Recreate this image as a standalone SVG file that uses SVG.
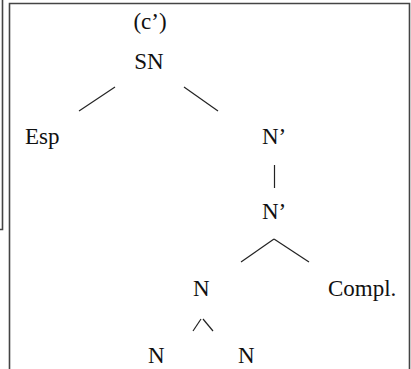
<svg xmlns="http://www.w3.org/2000/svg" width="411" height="369" viewBox="0 0 411 369">
  <style>
    text { font-family: 'Liberation Serif', 'DejaVu Serif', serif; font-size: 23px; fill: #111; }
    .c { stroke: #222; stroke-width: 1.2; fill: none; }
    .frame { stroke: #444; stroke-width: 1.6; fill: none; }
  </style>
  <rect width="411" height="369" fill="#fff"/>
  <g id="frames">
    <polyline class="frame" points="2.5,0 2.5,229.5 0,229.5"/>
    <polyline class="frame" points="9.5,369 9.5,3.5 409.5,3.5 409.5,369"/>
  </g>
  <g id="label-c"><text x="150" y="29" text-anchor="middle" font-family="Liberation Serif, serif">(c’)</text></g>
  <g id="node-SN"><text x="149" y="69" text-anchor="middle" font-family="Liberation Serif, serif">SN</text></g>
  <g id="node-Esp"><text x="25" y="144" font-family="Liberation Serif, serif">Esp</text></g>
  <g id="node-N1"><text x="262" y="144" font-family="Liberation Serif, serif">N’</text></g>
  <g id="node-N2"><text x="262" y="219" font-family="Liberation Serif, serif">N’</text></g>
  <g id="node-N"><text x="193" y="296" font-family="Liberation Serif, serif">N</text></g>
  <g id="node-Compl"><text x="328" y="296" font-family="Liberation Serif, serif">Compl.</text></g>
  <g id="node-Na"><text x="148" y="363" font-family="Liberation Serif, serif">N</text></g>
  <g id="node-Nb"><text x="238" y="363" font-family="Liberation Serif, serif">N</text></g>
  <g id="connectors">
    <line class="c" x1="115" y1="87" x2="79" y2="111"/>
    <line class="c" x1="184" y1="87" x2="218" y2="111"/>
    <line class="c" x1="274.5" y1="165" x2="274.5" y2="188"/>
    <line class="c" x1="274" y1="239" x2="241" y2="262"/>
    <line class="c" x1="274" y1="239" x2="309" y2="262"/>
    <line class="c" x1="201" y1="319" x2="193" y2="331"/>
    <line class="c" x1="203" y1="319" x2="213" y2="331"/>
  </g>
</svg>
